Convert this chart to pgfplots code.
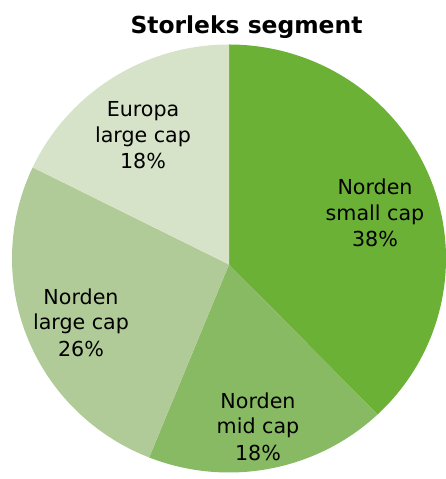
\documentclass[border=0pt]{standalone}
\usepackage{pgfplots}
\pgfplotsset{compat=1.18}
\usepackage{fontspec}
\setmainfont{DejaVu Sans}
\definecolor{cA}{RGB}{107,177,54}
\definecolor{cB}{RGB}{136,186,100}
\definecolor{cC}{RGB}{176,203,152}
\definecolor{cD}{RGB}{214,227,201}
% shares (percent): Norden small cap, Norden mid cap, Norden large cap, Europa large cap
\def\shareA{38}\def\shareB{18}\def\shareC{26}\def\shareD{18}
\pgfmathsetmacro\angA{90}
\pgfmathsetmacro\angB{\angA-3.6*\shareA}
\pgfmathsetmacro\angC{\angB-3.6*\shareB}
\pgfmathsetmacro\angD{\angC-3.6*\shareC}
\pgfmathsetmacro\angE{\angD-3.6*\shareD}
\def\pieX{229}\def\pieY{220.5}\def\pieRx{217}\def\pieRy{214}
\def\tipY{214.5}
\begin{document}
\begin{tikzpicture}[x=1bp,y=1bp]
\path[use as bounding box] (0,0) rectangle (446,479);
\begin{axis}[at={(0,0)},anchor=south west,width=446bp,height=479bp,scale only axis,
  xmin=0,xmax=446,ymin=0,ymax=479,hide axis,clip=true]
\addplot[draw=none,fill=cA,domain=\angB:\angA,samples=90,variable=\t]
  ({\pieX+\pieRx*cos(\t)},{\pieY+\pieRy*sin(\t)}) -- (axis cs:\pieX,\tipY) -- cycle;
\addplot[draw=none,fill=cB,domain=\angC:\angB,samples=60,variable=\t]
  ({\pieX+\pieRx*cos(\t)},{\pieY+\pieRy*sin(\t)}) -- (axis cs:\pieX,\tipY) -- cycle;
\addplot[draw=none,fill=cC,domain=\angD:\angC,samples=80,variable=\t]
  ({\pieX+\pieRx*cos(\t)},{\pieY+\pieRy*sin(\t)}) -- (axis cs:\pieX,\tipY) -- cycle;
\addplot[draw=none,fill=cD,domain=\angE:\angD,samples=60,variable=\t]
  ({\pieX+\pieRx*cos(\t)},{\pieY+\pieRy*sin(\t)}) -- (axis cs:\pieX,\tipY) -- cycle;
\end{axis}
\begin{scope}[every node/.style={anchor=base,inner sep=0pt,font=\fontsize{20.7}{25}\selectfont}]
\node[font=\fontsize{23.5}{28}\selectfont\bfseries] at (246.5,479-34) {Storleks segment};
\node at (375,479-194.5) {Norden};
\node at (375,479-220.5) {small cap};
\node at (375,479-246.5) {38\%};
\node at (258,479-408.3) {Norden};
\node at (258,479-433.5) {mid cap};
\node at (258,479-460.5) {18\%};
\node at (81,479-304.3) {Norden};
\node at (81,479-330) {large cap};
\node at (81,479-356.5) {26\%};
\node at (143,479-116.7) {Europa};
\node at (143,479-142.3) {large cap};
\node at (143,479-168.3) {18\%};
\end{scope}
\end{tikzpicture}
\end{document}
